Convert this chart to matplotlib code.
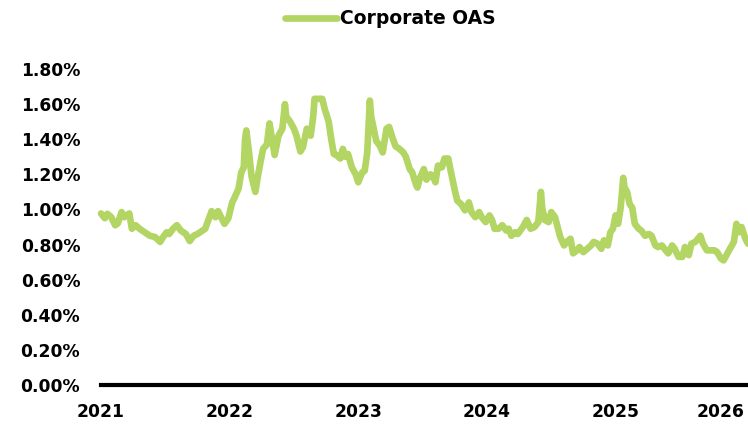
import matplotlib
matplotlib.use("Agg")
import matplotlib.pyplot as plt

# decimal-year position (as on the chart's own axis) and Corporate OAS (%)
dates = [
    2021.00, 2021.03, 2021.05, 2021.08, 2021.11, 2021.13, 2021.16, 2021.18, 2021.22, 2021.24,
    2021.27, 2021.30, 2021.34, 2021.38, 2021.42, 2021.46, 2021.48, 2021.51, 2021.53, 2021.56,
    2021.59, 2021.62, 2021.66, 2021.69, 2021.72, 2021.75, 2021.79, 2021.81, 2021.83, 2021.86,
    2021.89, 2021.91, 2021.94, 2021.96, 2021.99, 2022.02, 2022.04, 2022.07, 2022.09, 2022.11,
    2022.12, 2022.13, 2022.15, 2022.17, 2022.20, 2022.22, 2022.24, 2022.26, 2022.29, 2022.31,
    2022.33, 2022.35, 2022.38, 2022.41, 2022.43, 2022.44, 2022.47, 2022.50, 2022.52, 2022.55,
    2022.57, 2022.60, 2022.63, 2022.65, 2022.66, 2022.69, 2022.72, 2022.74, 2022.77, 2022.79,
    2022.81, 2022.83, 2022.86, 2022.88, 2022.90, 2022.92, 2022.95, 2022.98, 2023.00, 2023.03,
    2023.05, 2023.07, 2023.09, 2023.10, 2023.12, 2023.14, 2023.17, 2023.19, 2023.22, 2023.24,
    2023.27, 2023.29, 2023.32, 2023.35, 2023.37, 2023.40, 2023.42, 2023.45, 2023.46, 2023.48,
    2023.51, 2023.53, 2023.56, 2023.58, 2023.60, 2023.62, 2023.65, 2023.67, 2023.70, 2023.71,
    2023.73, 2023.75, 2023.77, 2023.80, 2023.83, 2023.86, 2023.88, 2023.91, 2023.94, 2023.96,
    2023.99, 2024.02, 2024.04, 2024.06, 2024.09, 2024.12, 2024.15, 2024.17, 2024.19, 2024.22,
    2024.24, 2024.27, 2024.28, 2024.31, 2024.34, 2024.37, 2024.40, 2024.42, 2024.43, 2024.45,
    2024.48, 2024.50, 2024.53, 2024.55, 2024.57, 2024.60, 2024.62, 2024.65, 2024.67, 2024.70,
    2024.72, 2024.75, 2024.78, 2024.81, 2024.83, 2024.86, 2024.89, 2024.91, 2024.94, 2024.96,
    2024.98, 2025.00, 2025.02, 2025.04, 2025.06, 2025.07, 2025.09, 2025.11, 2025.13, 2025.15,
    2025.18, 2025.20, 2025.23, 2025.26, 2025.28, 2025.31, 2025.33, 2025.36, 2025.39, 2025.41,
    2025.44, 2025.46, 2025.49, 2025.52, 2025.54, 2025.57, 2025.59, 2025.62, 2025.64, 2025.66,
    2025.68, 2025.71, 2025.74, 2025.77, 2025.79, 2025.82, 2025.84, 2025.87, 2025.89, 2025.92,
    2025.94, 2025.96, 2025.98, 2026.01, 2026.03,
]
oas = [
    0.977, 0.95, 0.975, 0.956, 0.91, 0.92, 0.985, 0.956, 0.977, 0.89,
    0.91, 0.89, 0.87, 0.85, 0.843, 0.815, 0.84, 0.87, 0.86, 0.89,
    0.91, 0.88, 0.86, 0.82, 0.85, 0.86, 0.88, 0.89, 0.93, 0.99,
    0.956, 0.99, 0.946, 0.918, 0.95, 1.04, 1.07, 1.12, 1.21, 1.24,
    1.40, 1.45, 1.33, 1.19, 1.10, 1.19, 1.27, 1.345, 1.37, 1.49,
    1.40, 1.31, 1.42, 1.46, 1.60, 1.53, 1.50, 1.46, 1.42, 1.33,
    1.355, 1.46, 1.42, 1.53, 1.63, 1.63, 1.63, 1.57, 1.50, 1.40,
    1.316, 1.31, 1.29, 1.345, 1.30, 1.316, 1.24, 1.20, 1.155, 1.21,
    1.22, 1.325, 1.62, 1.53, 1.46, 1.39, 1.36, 1.325, 1.46, 1.47,
    1.40, 1.36, 1.345, 1.325, 1.30, 1.23, 1.21, 1.14, 1.125, 1.18,
    1.23, 1.17, 1.20, 1.19, 1.155, 1.25, 1.24, 1.29, 1.29, 1.25,
    1.18, 1.11, 1.05, 1.03, 0.995, 1.04, 0.985, 0.956, 0.985, 0.956,
    0.928, 0.966, 0.94, 0.89, 0.89, 0.91, 0.88, 0.89, 0.85, 0.87,
    0.86, 0.89, 0.90, 0.94, 0.89, 0.90, 0.928, 1.10, 1.01, 0.94,
    0.928, 0.985, 0.956, 0.90, 0.843, 0.795, 0.815, 0.833, 0.75, 0.767,
    0.786, 0.757, 0.776, 0.795, 0.815, 0.805, 0.776, 0.824, 0.795, 0.87,
    0.89, 0.966, 0.918, 1.01, 1.18, 1.125, 1.10, 1.03, 1.01, 0.918,
    0.89, 0.88, 0.85, 0.86, 0.85, 0.795, 0.786, 0.795, 0.767, 0.75,
    0.795, 0.776, 0.73, 0.73, 0.786, 0.74, 0.805, 0.815, 0.833, 0.85,
    0.805, 0.767, 0.767, 0.767, 0.757, 0.72, 0.71, 0.75, 0.776, 0.815,
    0.918, 0.87, 0.90, 0.833, 0.805,
]
year_ticks = [2021, 2022, 2023, 2024, 2025, 2026]
year_labels = ["2021", "2022", "2023", "2024", "2025", "2026"]
y_ticks = [0.0, 0.2, 0.4, 0.6, 0.8, 1.0, 1.2, 1.4, 1.6, 1.8]
series_name = "Corporate OAS"

GREEN = "#B2D563"
FONT = ["DejaVu Sans"]
FS = 12.3
LW = 4.8

fig = plt.figure(figsize=(7.48, 4.26), dpi=100)
ax = fig.add_axes([101 / 748, 1 - 385 / 426, 647 / 748, (385 - 69) / 426])

ax.plot(dates, oas, color=GREEN, lw=LW, solid_joinstyle="round",
        solid_capstyle="round", label=series_name, clip_on=False)

ax.set_xlim(dates[0], dates[-1])
ax.set_ylim(0, 1.8)
ax.set_yticks(y_ticks)
ax.set_yticklabels([f"{v:.2f}%" for v in y_ticks], fontfamily=FONT,
                   fontweight="bold", fontsize=FS)
ax.set_xticks(year_ticks)
ax.set_xticklabels(year_labels, fontfamily=FONT, fontweight="bold", fontsize=FS)
ax.get_xticklabels()[-1].set_horizontalalignment("right")

ax.tick_params(axis="y", length=0, pad=15)
ax.tick_params(axis="x", length=0, pad=13)
for s in ("top", "right", "left"):
    ax.spines[s].set_visible(False)
ax.spines["bottom"].set_linewidth(3)
ax.spines["bottom"].set_color("black")
ax.set_facecolor("white")

leg = fig.legend(loc="center", bbox_to_anchor=(390 / 748, 1 - 19 / 426),
                 frameon=False, handlelength=2.8, handletextpad=0.15,
                 prop={"family": FONT, "weight": "bold", "size": 13.5})
for h in leg.get_lines():
    h.set_linewidth(LW)
    h.set_solid_capstyle("round")

fig.savefig("out.png", dpi=100, facecolor="white")
